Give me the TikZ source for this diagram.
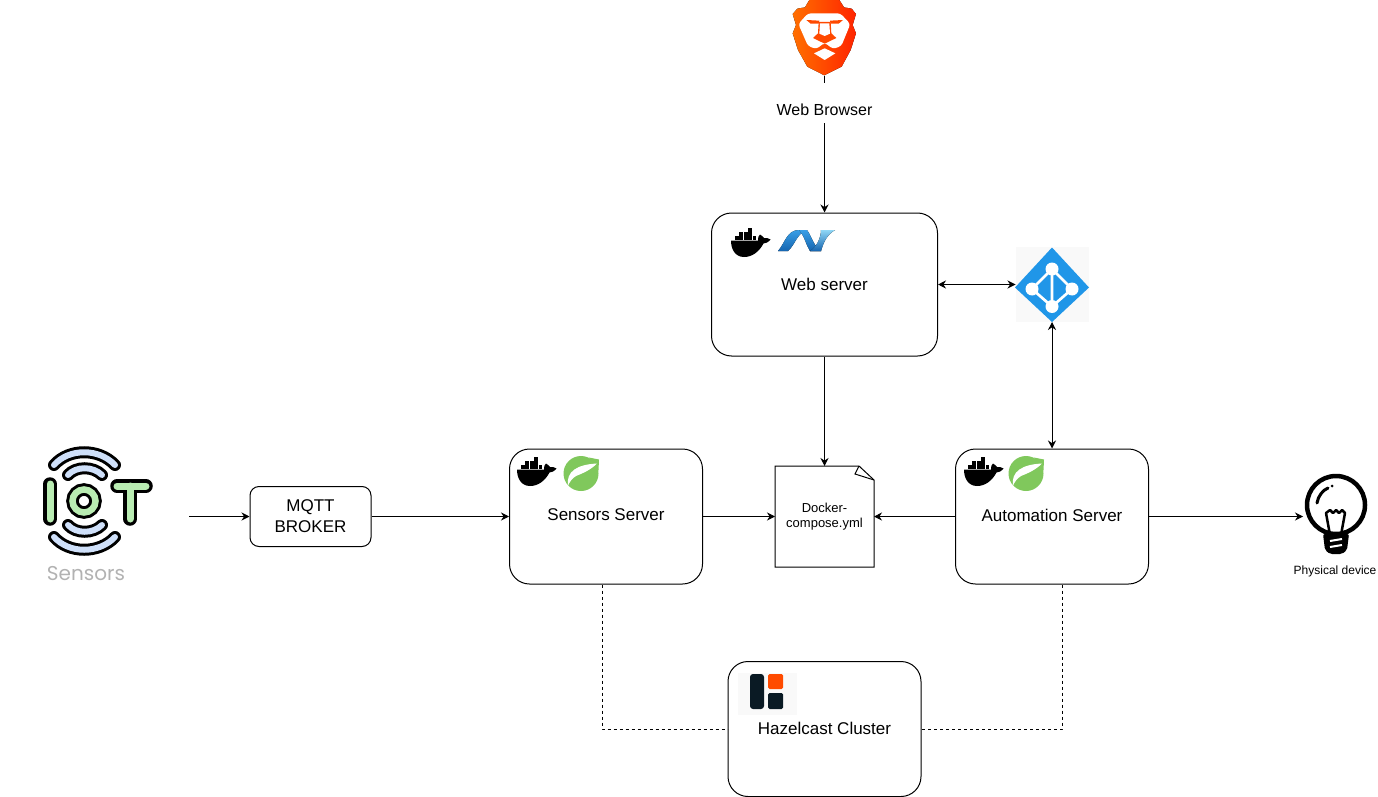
\documentclass[tikz,border=0pt]{standalone}
\usepackage{fontspec}
\setmainfont{Liberation Sans}
\newfontfamily\logofont{Poppins}
\usetikzlibrary{arrows.meta, positioning}
\definecolor{bravelight}{HTML}{ff6f00}
\definecolor{bravedark}{HTML}{ff2400}
\definecolor{springgreen}{HTML}{80c85c}
\definecolor{azureblue}{HTML}{2096e8}
\definecolor{iconback}{HTML}{f9f9f9}
\definecolor{hazeldark}{HTML}{0a1a24}
\definecolor{hazelorange}{HTML}{ff4b00}
\definecolor{iotgreen}{HTML}{b9ecb2}
\definecolor{iotblue}{HTML}{cfe0fa}
\definecolor{netpale}{HTML}{8fd6f5}
\definecolor{netmid}{HTML}{3a9fe6}
\definecolor{netdeep}{HTML}{1565b0}
\tikzset{
	serverbox/.style={draw=black, fill=white, line width=1pt, rounded corners=20pt, align=center,
		font=\fontsize{17}{21}\selectfont},
	iconbox/.style={inner sep=0pt, outer sep=0pt},
	flowline/.style={draw=black, line width=1pt, -{Stealth[length=8pt, width=8pt]}},
	bothline/.style={draw=black, line width=1pt, {Stealth[length=8pt, width=8pt]}-{Stealth[length=8pt, width=8pt]}},
	cacheline/.style={draw=black, line width=1pt, dash pattern=on 3pt off 3pt},
	dockerlogo/.pic={
		\foreach \boxx/\boxy in {4/8.4, 8.4/8.4, 12.8/8.4, 17.2/8.4, 21.6/8.4, 8.4/4.2, 12.8/4.2, 17.2/4.2, 17.2/0}
			\fill[black] (\boxx,\boxy) rectangle ++(3.7,3.5);
		\fill[black] (0,12.6) -- (27,12.6) .. controls (27,9) and (28,7) .. (29,6.5)
			.. controls (31,7.5) and (32,9) .. (33,10) .. controls (35,9.5) and (37,10) .. (39.5,11.5)
			.. controls (37,14.5) and (34.5,15.5) .. (32.5,15.5) .. controls (28,24) and (21,29) .. (13,29)
			.. controls (4,29) and (0,21) .. (0,12.6) -- cycle;
	},
	springlogo/.pic={
		\fill[springgreen] (0,0) circle (17.5);
		\fill[springgreen] (8,-16) -- (18,-14) -- (17.5,-3) -- cycle;
		\fill[white] (-13,12) .. controls (-15,-2) and (-4,-9) .. (16,-10)
			.. controls (9,-3) and (1,0) .. (-5,2.5) .. controls (-9,5) and (-11,8) .. (-13,12) -- cycle;
	},
	dotnetlogo/.pic={
		\fill[bottom color=netdeep, top color=netmid] (1,22) .. controls (8,14) and (10,1) .. (22,1) -- (30,1)
			.. controls (20,4) and (18,16) .. (11,22) -- cycle;
		\fill[bottom color=netdeep, top color=netmid] (22,1) -- (30,1) .. controls (35,8) and (37,18) .. (44,22)
			-- (33,22) .. controls (29,16) and (28,8) .. (22,1) -- cycle;
		\fill[bottom color=netdeep, top color=netpale] (33,22) -- (44,22) .. controls (47,12) and (50,6) .. (58,1)
			-- (44,1) .. controls (44,8) and (40,18) .. (33,22) -- cycle;
	},
	bravelogo/.pic={
		\fill[left color=bravelight, right color=bravedark] (64,0) -- (154,0) -- (168,22) -- (191,26)
			-- (204,42) -- (194,75) -- (204,100) -- (188,150) -- (161,200) -- (109,226) -- (58,200)
			-- (30,150) -- (14,100) -- (24,75) -- (14,42) -- (28,26) -- (51,22) -- cycle;
		\fill[white, rounded corners=3pt] (60,40) -- (157,40) -- (187,72) -- (160,138) -- (135,147)
			-- (110,128) -- (85,147) -- (60,138) -- (31,72) -- cycle;
		\fill[bravelight!50!bravedark] (92,66) -- (128,66) -- (130,100) -- (145,114) -- (110,131)
			-- (75,114) -- (90,100) -- cycle;
		\fill[white] (96,70) -- (124,70) -- (126,101) -- (110,108) -- (94,101) -- cycle;
		\fill[bravelight!50!bravedark] (55,60) -- (94,62) -- (92,71) -- (68,71) -- cycle;
		\fill[bravelight!50!bravedark] (165,60) -- (126,62) -- (128,71) -- (152,71) -- cycle;
		\fill[white] (78,160) -- (110,145) -- (142,160) -- (110,180) -- cycle;
	},
	azurelogo/.pic={
		\fill[azureblue] (0,-37) -- (37,3) -- (0,37.5) -- (-37,3) -- cycle;
		\draw[white, line width=2.7pt] (0,-15.5) -- (-20,4.5) -- (0,22) -- (20,4.5) -- cycle (0,-15.5) -- (0,22);
		\foreach \hubx/\huby in {0/-15.5, -20/4.5, 20/4.5, 0/22}
			\fill[white] (\hubx,\huby) circle (6.5);
	},
	hazellogo/.pic={
		\fill[iconback] (0,0) rectangle (59,42);
		\fill[hazeldark, rounded corners=3pt] (12,1) rectangle (26,36);
		\fill[hazelorange, rounded corners=1.5pt] (30,1) rectangle (45,16);
		\fill[hazeldark, rounded corners=1.5pt] (30,20) rectangle (45,36);
	},
	bulblogo/.pic={
		\draw[black, line width=4.5pt] (1,-11) circle (29);
		\draw[black, line width=2.5pt, line join=round] (-5,19) -- (-9,-3) -- (-5,-6) -- (-2,-3)
			-- (1,-6) -- (4,-3) -- (7,-6) -- (10,-3) -- (6,19);
		\fill[black, rounded corners=2pt] (-12,18) -- (14,18) -- (12,34) -- (7,38) -- (-5,38) -- (-10,34) -- cycle;
		\draw[white, line width=2pt] (-5,25) -- (7,23) (-5,31) -- (7,29);
		\draw[black, line width=3pt, line cap=round] (-18,-13) .. controls (-17,-20) and (-12,-26) .. (-7,-28);
		\fill[black] (-3,-30) circle (1.5);
	},
	iotlogo/.pic={
		\foreach \strokewd/\strokecol in {13.5/black, 7/iotgreen}{
			\draw[\strokecol, line width=\strokewd pt, line cap=round] (-34,-17) -- (-34,18);
			\draw[\strokecol, line width=\strokewd pt, line cap=round] (33,-15) -- (62,-15) (46,-15) -- (46,18);
		}
		\draw[black, line width=12.5pt] (0,0) circle (11.5);
		\draw[iotgreen, line width=6.5pt] (0,0) circle (11.5);
		\foreach \strokewd/\strokecol in {12/black, 6/iotblue}{
			\draw[\strokecol, line width=\strokewd pt, line cap=round] (-30,-36) .. controls (-15,-53) and (15,-53) .. (31,-36);
			\draw[\strokecol, line width=\strokewd pt, line cap=round] (-16,-26) .. controls (-8,-35) and (9,-35) .. (18,-26);
			\draw[\strokecol, line width=\strokewd pt, line cap=round] (-16,24) .. controls (-8,33) and (9,33) .. (18,24);
			\draw[\strokecol, line width=\strokewd pt, line cap=round] (-30,36) .. controls (-15,53) and (15,53) .. (31,36);
		}
	}
}

\begin{document}
\begin{tikzpicture}[x=1pt, y=-1pt]
	\useasboundingbox (0,0) rectangle (1378,797);

	\node[iconbox, minimum width=66pt, minimum height=76pt] (brave) at (824.5,38) {};
	\node[serverbox, minimum width=226pt, minimum height=143pt] (webserver) at (824.5,284.5) {Web server};
	\node[iconbox, fill=iconback, minimum width=73pt, minimum height=75pt] (azure) at (1052,284.5) {};
	\node[iconbox, minimum width=169pt, minimum height=154pt] (iot) at (104.5,516.5) {};
	\node[serverbox, rounded corners=9pt, minimum width=121pt, minimum height=60pt] (mqtt) at (310.5,516.5) {MQTT\\BROKER};
	\node[serverbox, text depth=3pt, minimum width=193pt, minimum height=135pt] (sensors) at (606,516.5) {Sensors Server};
	\node[iconbox, minimum width=99pt, minimum height=101pt, align=center,
		font=\fontsize{13}{15}\selectfont] (compose) at (824.5,516.5) {Docker-\\compose.yml};
	\node[serverbox, text depth=3pt, minimum width=193pt, minimum height=135pt] (automation) at (1052,516.5) {Automation Server};
	\node[iconbox, minimum width=64pt, minimum height=80pt] (bulb) at (1335,516.5) {};
	\node[serverbox, text depth=2pt, minimum width=193pt, minimum height=135pt] (hazelcast) at (824.5,729) {Hazelcast Cluster};
	\node[iconbox, font=\fontsize{12}{15}\selectfont] (bulblabel) at (1335,571) {Physical device};
	\node[iconbox, text=black!30, font=\logofont\fontsize{20}{24}\selectfont] (iotlabel) at (86,574) {Sensors};

	\draw[line width=1pt] (compose.north west) -- ([xshift=-15pt]compose.north east) -- ([yshift=-14pt]compose.north east)
		-- (compose.south east) -- (compose.south west) -- cycle;
	\draw[line width=1pt] ([xshift=-15pt]compose.north east) -- ([xshift=-19pt, yshift=-8pt]compose.north east)
		-- ([yshift=-14pt]compose.north east);

	\pic at (788,0) [scale=.3333] {bravelogo};
	\pic at (731,228) {dockerlogo};
	\pic at (777,229) {dotnetlogo};
	\pic at (517,457) {dockerlogo};
	\pic at (581,473.5) {springlogo};
	\pic at (964,457) {dockerlogo};
	\pic at (1026,473.5) {springlogo};
	\pic at (1052,284.5) {azurelogo};
	\pic at (738,673) {hazellogo};
	\pic at (1335,516) {bulblogo};
	\pic at (84,501) {iotlogo};

	\draw[flowline] (brave) -- node[pos=.197, fill=white, inner sep=0pt, text height=33pt, text depth=7pt,
		font=\fontsize{16}{20}\selectfont] (browserlabel) {Web Browser} (webserver);
	\draw[bothline] (webserver) -- (azure);
	\draw[bothline] (azure) -- (automation);
	\draw[flowline] (webserver) -- (compose);
	\draw[flowline] (iot) -- (mqtt);
	\draw[flowline] (mqtt) -- (sensors);
	\draw[flowline] (sensors) -- (compose);
	\draw[flowline] (automation) -- (compose);
	\draw[flowline] (automation) -- (bulb);
	\draw[cacheline] ([xshift=-4pt]sensors.south) |- (hazelcast.west);
	\draw[cacheline] ([xshift=10pt]automation.south) |- (hazelcast.east);
\end{tikzpicture}
\end{document}
